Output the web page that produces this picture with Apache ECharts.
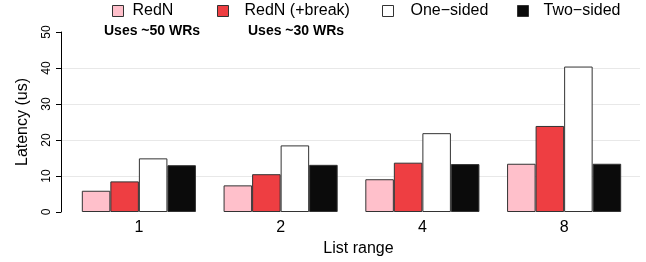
<!DOCTYPE html>
<html><head><meta charset="utf-8">
<script src="https://cdn.jsdelivr.net/npm/echarts@6/dist/echarts.min.js"></script>
<style>html,body{margin:0;padding:0;background:#fff}#c{width:646px;height:262px}</style>
</head><body><div id="c"></div>
<script>
var categories = ['1', '2', '4', '8'];
var seriesNames = ['RedN', 'RedN (+break)', 'One\u2212sided', 'Two\u2212sided'];
var redn = [5.9, 7.4, 9.1, 13.4];
var rednBreak = [8.5, 10.5, 13.7, 23.9];
var oneSided = [14.9, 18.5, 21.9, 40.4];
var twoSided = [13.0, 13.1, 13.3, 13.4];
var yTicks = [0, 10, 20, 30, 40, 50];
var notes = ['Uses ~50 WRs', 'Uses ~30 WRs'];

var colors = ['#FFC0CB', '#EE3E42', '#FFFFFF', '#0b0b0b'];
var values = [redn, rednBreak, oneSided, twoSided];
var font = 'Liberation Sans, Arial, Helvetica, sans-serif';

var chart = echarts.init(document.getElementById('c'), null, {renderer: 'canvas'});
var series = values.map(function (v, i) {
  return {
    name: seriesNames[i], type: 'bar', data: v, xAxisIndex: 0, yAxisIndex: 0,
    barGap: '0%', barCategoryGap: '19.5%',
    itemStyle: {color: colors[i], borderColor: '#333', borderWidth: 1},
    emphasis: {disabled: true}
  };
});
var legendLeft = [112, 217, 382, 517];
var legendPad = [4, 11, 12, 10];
var legends = seriesNames.map(function (n, i) {
  return {
    show: true, left: legendLeft[i], top: 3, padding: 0, itemWidth: 11, itemHeight: 11,
    selectedMode: false,
    data: [{name: n, icon: 'rect', itemStyle: {color: colors[i], borderColor: '#333', borderWidth: 1}}],
    textStyle: {fontFamily: font, fontSize: 16, color: '#000', padding: [0, 0, 0, legendPad[i]]}
  };
});
var option = {
  animation: false,
  backgroundColor: '#fff',
  legend: legends,
  grid: [
    {left: 68, right: 11, top: 32, bottom: 50},
    {left: 62, right: 6, top: 32, bottom: 50}
  ],
  xAxis: [
    {type: 'category', gridIndex: 0, data: categories,
     axisLine: {show: false}, axisTick: {show: false},
     axisLabel: {fontFamily: font, fontSize: 16, color: '#000', margin: 8},
     name: 'List range', nameLocation: 'middle', nameGap: 27,
     nameTextStyle: {fontFamily: font, fontSize: 16, color: '#000', padding: [0, 0, 0, 14]}},
    {type: 'category', gridIndex: 1, data: categories, show: false}
  ],
  yAxis: [
    {type: 'value', gridIndex: 0, min: 0, max: 50, interval: 10, offset: 7,
     axisLine: {show: true, lineStyle: {color: '#000', width: 1}},
     axisTick: {show: true, length: 5, lineStyle: {color: '#000'}},
     axisLabel: {fontFamily: font, fontSize: 12, color: '#000', rotate: 90, margin: 8,
       formatter: function (v) { return yTicks.indexOf(v) >= 0 ? String(v) : ''; }},
     splitLine: {show: false},
     name: 'Latency (us)', nameLocation: 'middle', nameGap: 30,
     nameTextStyle: {fontFamily: font, fontSize: 16, color: '#000'}},
    {type: 'value', gridIndex: 1, min: 0, max: 50, interval: 10,
     axisLine: {show: false}, axisTick: {show: false}, axisLabel: {show: false},
     splitLine: {show: true, showMinLine: false, showMaxLine: false, lineStyle: {color: '#e8e8e8', width: 1}}}
  ],
  graphic: [
    {type: 'text', left: 104, top: 24, style: {text: notes[0], fontFamily: font, fontSize: 14, fontWeight: 'bold', fill: '#000'}},
    {type: 'text', left: 248, top: 24, style: {text: notes[1], fontFamily: font, fontSize: 14, fontWeight: 'bold', fill: '#000'}}
  ],
  series: series
};
chart.setOption(option);
</script>
</body></html>
